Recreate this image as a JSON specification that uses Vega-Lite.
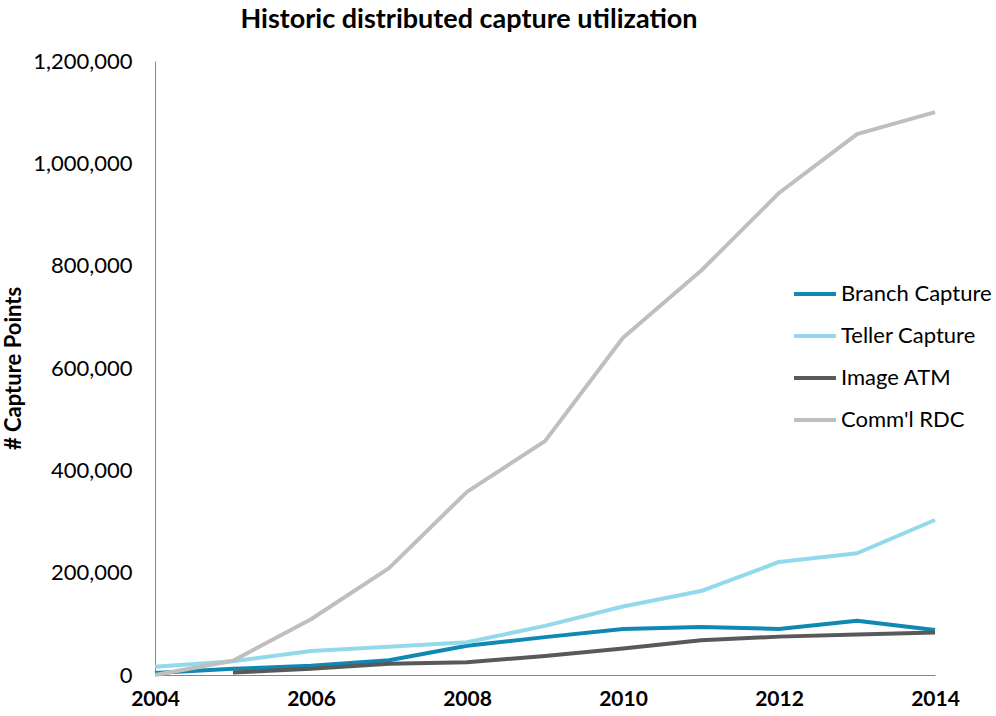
{
  "$schema": "https://vega.github.io/schema/vega-lite/v6.json",
  "autosize": {"type": "none"},
  "width": 780,
  "height": 614,
  "padding": {"left": 155, "top": 61, "right": 61, "bottom": 41},
  "background": "white",
  "config": {
    "font": "Lato",
    "view": {"stroke": null}
  },
  "title": {
    "text": "Historic distributed capture utilization",
    "fontSize": 27,
    "fontWeight": "bold",
    "color": "#000000",
    "anchor": "middle",
    "dx": -76,
    "offset": 16
  },
  "data": {
    "values": [
      {"year": 2004, "series": "Branch Capture", "value": 4000},
      {"year": 2005, "series": "Branch Capture", "value": 12000},
      {"year": 2006, "series": "Branch Capture", "value": 18000},
      {"year": 2007, "series": "Branch Capture", "value": 29000},
      {"year": 2008, "series": "Branch Capture", "value": 57000},
      {"year": 2009, "series": "Branch Capture", "value": 74000},
      {"year": 2010, "series": "Branch Capture", "value": 90000},
      {"year": 2011, "series": "Branch Capture", "value": 94000},
      {"year": 2012, "series": "Branch Capture", "value": 90000},
      {"year": 2013, "series": "Branch Capture", "value": 106000},
      {"year": 2014, "series": "Branch Capture", "value": 88000},
      {"year": 2004, "series": "Teller Capture", "value": 16000},
      {"year": 2005, "series": "Teller Capture", "value": 27000},
      {"year": 2006, "series": "Teller Capture", "value": 47000},
      {"year": 2007, "series": "Teller Capture", "value": 55000},
      {"year": 2008, "series": "Teller Capture", "value": 64000},
      {"year": 2009, "series": "Teller Capture", "value": 96000},
      {"year": 2010, "series": "Teller Capture", "value": 134000},
      {"year": 2011, "series": "Teller Capture", "value": 164000},
      {"year": 2012, "series": "Teller Capture", "value": 221000},
      {"year": 2013, "series": "Teller Capture", "value": 238000},
      {"year": 2014, "series": "Teller Capture", "value": 303000},
      {"year": 2005, "series": "Image ATM", "value": 5000},
      {"year": 2006, "series": "Image ATM", "value": 12000},
      {"year": 2007, "series": "Image ATM", "value": 22000},
      {"year": 2008, "series": "Image ATM", "value": 25000},
      {"year": 2009, "series": "Image ATM", "value": 37000},
      {"year": 2010, "series": "Image ATM", "value": 52000},
      {"year": 2011, "series": "Image ATM", "value": 68000},
      {"year": 2012, "series": "Image ATM", "value": 75000},
      {"year": 2013, "series": "Image ATM", "value": 79000},
      {"year": 2014, "series": "Image ATM", "value": 83000},
      {"year": 2004, "series": "Comm'l RDC", "value": 0},
      {"year": 2005, "series": "Comm'l RDC", "value": 28000},
      {"year": 2006, "series": "Comm'l RDC", "value": 109000},
      {"year": 2007, "series": "Comm'l RDC", "value": 209000},
      {"year": 2008, "series": "Comm'l RDC", "value": 358000},
      {"year": 2009, "series": "Comm'l RDC", "value": 457000},
      {"year": 2010, "series": "Comm'l RDC", "value": 659000},
      {"year": 2011, "series": "Comm'l RDC", "value": 790000},
      {"year": 2012, "series": "Comm'l RDC", "value": 942000},
      {"year": 2013, "series": "Comm'l RDC", "value": 1057000},
      {"year": 2014, "series": "Comm'l RDC", "value": 1100000}
    ]
  },
  "mark": {"type": "line", "strokeWidth": 4, "strokeCap": "butt", "strokeJoin": "round"},
  "encoding": {
    "x": {
      "field": "year",
      "type": "quantitative",
      "scale": {"domain": [2004, 2014], "nice": false, "zero": false},
      "axis": {
        "values": [2004, 2006, 2008, 2010, 2012, 2014],
        "format": "d",
        "title": null,
        "grid": false,
        "ticks": false,
        "domainColor": "#868686",
        "domainWidth": 1,
        "labelFontSize": 21,
        "labelFontWeight": "bold",
        "labelColor": "#000000",
        "labelPadding": 13,
        "labelFlush": false
      }
    },
    "y": {
      "field": "value",
      "type": "quantitative",
      "scale": {"domain": [0, 1200000], "nice": false},
      "axis": {
        "values": [0, 200000, 400000, 600000, 800000, 1000000, 1200000],
        "format": ",d",
        "title": "# Capture Points",
        "titleFontSize": 22,
        "titleFontWeight": "bold",
        "titleColor": "#000000",
        "titleX": -152,
        "titleBaseline": "top",
        "grid": false,
        "ticks": false,
        "domainColor": "#868686",
        "domainWidth": 1,
        "labelFontSize": 22,
        "labelColor": "#000000",
        "labelPadding": 23
      }
    },
    "color": {
      "field": "series",
      "type": "nominal",
      "sort": ["Branch Capture", "Teller Capture", "Image ATM", "Comm'l RDC"],
      "scale": {
        "domain": ["Branch Capture", "Teller Capture", "Image ATM", "Comm'l RDC"],
        "range": ["#0f89b3", "#93d9ec", "#595959", "#bfbfbf"]
      },
      "legend": {
        "title": null,
        "orient": "none",
        "legendX": 637,
        "legendY": 210,
        "symbolType": "stroke",
        "symbolStrokeWidth": 4,
        "symbolSize": 1764,
        "labelFontSize": 22,
        "labelColor": "#000000",
        "rowPadding": 8,
        "labelOffset": 3
      }
    }
  }
}
